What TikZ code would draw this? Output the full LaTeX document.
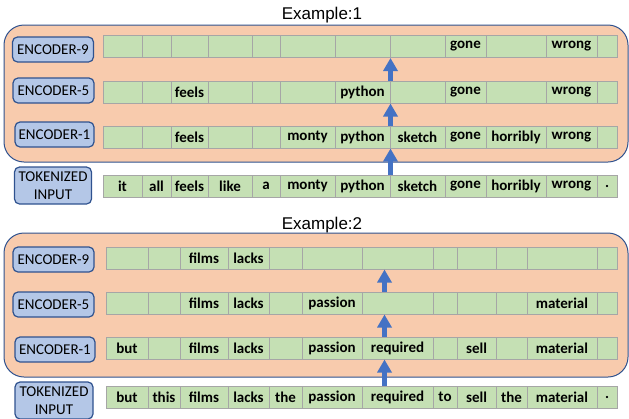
\documentclass[tikz,border=0pt]{standalone}
\usepackage{fontspec}
\setmainfont{Carlito}
\newfontfamily\titlefont{Liberation Sans}
\usetikzlibrary{positioning}
\usetikzlibrary {arrows.meta}
\definecolor{peach}{HTML}{F8CBAD}
\definecolor{cellgreen}{HTML}{C5E0B4}
\definecolor{cellgray}{HTML}{A6A6A6}
\definecolor{enclight}{HTML}{B4C7E7}
\definecolor{encblue}{HTML}{2F528F}
\definecolor{arrowblue}{HTML}{4472C4}
\tikzset{cellbox/.style={rectangle,draw=cellgray,fill=cellgreen,line width=1pt,
inner sep=0pt,minimum height=22pt,font=\bfseries\fontsize{15}{15}\selectfont}}
\tikzset{encbox/.style={rectangle,rounded corners=5pt,draw=encblue,fill=enclight,
line width=1.2pt,inner sep=1pt,minimum height=25pt,minimum width=81pt,
font=\fontsize{15}{18}\selectfont,align=center}}
\tikzset{stackbox/.style={rounded corners=20pt,draw=encblue,fill=peach,line width=1pt}}
\tikzset{uparrow/.style={draw=arrowblue,line width=5pt,-{Triangle[width=14pt,length=13pt]}}}
\tikzset{titletext/.style={font=\titlefont\fontsize{17}{17}\selectfont,inner sep=0pt}}

\begin{document}
\begin{tikzpicture}[x=1pt,y=-1pt]
        \useasboundingbox (0,0) rectangle (629,418);

        % example 1
        \node[titletext] (titleA) at (322,15) {Example:1};
        \draw[stackbox] (4,25) rectangle (628,162);

        \node[encbox] (encNineA) at (53,49.5) {ENCODER-9};
        \node[encbox] (encFiveA) at (53.5,90.5) {ENCODER-5};
        \node[encbox, minimum width=79pt] (encOneA) at (54.5,134.5) {ENCODER-1};
        \node[encbox, minimum width=77pt, minimum height=37pt] (encTokA) at (53,185.5) {TOKENIZED\\INPUT};

        \foreach \a/\b/\p/\q/\r/\s [count=\i] in {
            103/142/{}/{}/{}/it, 142/171/{}/{}/{}/all, 171/208/{}/feels/feels/feels,
            208/252/{}/{}/{}/like, 252/280/{}/{}/{}/a, 280/335/{}/{}/monty/monty,
            335/390/{}/python/python/python, 390/445/{}/{}/sketch/sketch,
            445/486/gone/gone/gone/gone, 486/546/{}/{}/horribly/horribly,
            546/597/wrong/wrong/wrong/wrong, 597/617/{}/{}/{}/.} {
            \node[cellbox, minimum width={(\b-\a)*1pt}] (nineA\i) at ({(\a+\b)/2},46.5) {\p};
            \node[cellbox, minimum width={(\b-\a)*1pt}] (fiveA\i) at ({(\a+\b)/2},92) {\q};
            \node[cellbox, minimum width={(\b-\a)*1pt}] (oneA\i) at ({(\a+\b)/2},137) {\r};
            \node[cellbox, minimum width={(\b-\a)*1pt}] (tokA\i) at ({(\a+\b)/2},186) {\s};
        }

        \draw[uparrow] (tokA7.north east) -- (oneA7.south east);
        \draw[uparrow] (oneA7.north east) -- (fiveA7.south east);
        \draw[uparrow] (fiveA7.north east) -- (nineA7.south east);

        % example 2
        \node[titletext] (titleB) at (322,225) {Example:2};
        \draw[stackbox] (4,233) rectangle (628,377);

        \node[encbox] (encNineB) at (53.5,259.5) {ENCODER-9};
        \node[encbox] (encFiveB) at (53.5,304.5) {ENCODER-5};
        \node[encbox, minimum width=80pt] (encOneB) at (55,349.5) {ENCODER-1};
        \node[encbox, minimum width=78pt, minimum height=37pt] (encTokB) at (54,400.5) {TOKENIZED\\INPUT};

        \foreach \a/\b/\p/\q/\r/\s [count=\i] in {
            106/148/{}/{}/but/but, 148/180/{}/{}/{}/this, 180/228/films/films/films/films,
            228/269/lacks/lacks/lacks/lacks, 269/302/{}/{}/{}/the,
            302/362/{}/passion/passion/passion, 362/433/{}/{}/required/required,
            433/457/{}/{}/{}/to, 457/496/{}/{}/sell/sell, 496/527/{}/{}/{}/the,
            527/597/{}/material/material/material, 597/617/{}/{}/{}/.} {
            \node[cellbox, minimum width={(\b-\a)*1pt}] (nineB\i) at ({(\a+\b)/2},258) {\p};
            \node[cellbox, minimum width={(\b-\a)*1pt}] (fiveB\i) at ({(\a+\b)/2},303) {\q};
            \node[cellbox, minimum width={(\b-\a)*1pt}] (oneB\i) at ({(\a+\b)/2},348) {\r};
            \node[cellbox, minimum width={(\b-\a)*1pt}] (tokB\i) at ({(\a+\b)/2},397) {\s};
        }

        \draw[uparrow] ([xshift=23pt]tokB7.north west) -- ([xshift=23pt]oneB7.south west);
        \draw[uparrow] ([xshift=23pt]oneB7.north west) -- ([xshift=23pt]fiveB7.south west);
        \draw[uparrow] ([xshift=23pt]fiveB7.north west) -- ([xshift=23pt]nineB7.south west);

    \end{tikzpicture}
\end{document}
